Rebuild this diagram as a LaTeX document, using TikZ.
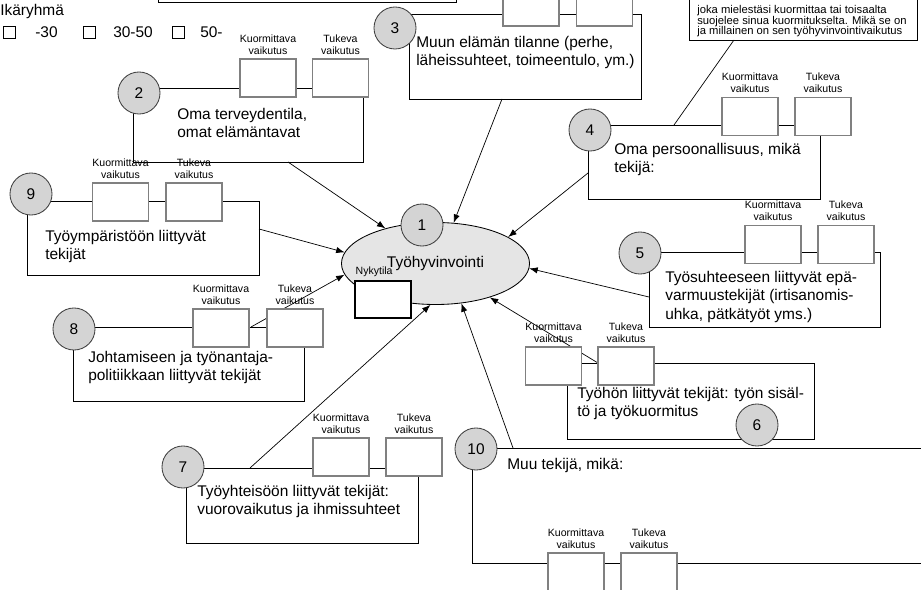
\documentclass[tikz,border=0pt]{standalone}
\usepackage{fontspec}
\setmainfont{Liberation Sans}
\usetikzlibrary{arrows.meta, positioning, shapes.geometric}

\begin{document}
\begin{tikzpicture}[
  x=0.025cm, y=-0.025cm,
  frame/.style={draw=black, line width=0.7pt},
  num/.style={circle, draw=black!75, fill=black!17, line width=0.6pt, minimum size=1.05cm, inner sep=0pt, font=\fontsize{11}{13}\selectfont},
  vbox/.style={draw=black!50, fill=white, line width=1.1pt, minimum width=1.4cm, minimum height=0.95cm, inner sep=0pt},
  lbl/.style={font=\fontsize{7.5}{8.5}\selectfont, align=center, inner sep=0pt},
  txt/.style={font=\fontsize{11}{13}\selectfont, align=left, inner sep=0pt, anchor=north west},
  arr/.style={-{Latex[length=6pt, width=4.5pt]}, line width=0.5pt},
  chk/.style={draw, line width=0.5pt, minimum size=0.3cm, inner sep=0pt}
]
  \useasboundingbox (0,0) rectangle (921,590);
  \clip (0,0) rectangle (921,590);

  % Central node
  \node[ellipse, draw, fill=black!10, line width=0.6pt, minimum width=4.7cm, minimum height=2.05cm, inner sep=0pt, font=\fontsize{11}{13}\selectfont] (wb) at (435.5,263.5) {Työhyvinvointi};

  % Age group
  \node[txt] (age) at (0,4) {Ikäryhmä};
  \node[chk] (k1) at (9,32) {};
  \node[txt, anchor=west] (k1t) at (35,32) {-30};
  \node[chk] (k2) at (89,32) {};
  \node[txt, anchor=west] (k2t) at (113,32) {30-50};
  \node[chk] (k3) at (178,32) {};
  \node[txt, anchor=west] (k3t) at (200,32) {50-};

  % Frames of the factors
  \draw[frame] (158,-40) rectangle (456,2.5);
  \draw[frame] (689,-40) rectangle (917,40);
  \draw[frame] (133,88) rectangle (363,162);   % 2
  \draw[frame] (409,14) rectangle (641,99);    % 3
  \draw[frame] (588,125) rectangle (820,199);  % 4
  \draw[frame] (649,252) rectangle (880,327);  % 5
  \draw[frame] (567,363) rectangle (814,439);  % 6
  \draw[frame] (186,468) rectangle (418,543);  % 7
  \draw[frame] (73,327) rectangle (304,401);   % 8
  \draw[frame] (27,201) rectangle (259,275);   % 9
  \draw[frame] (472,448) rectangle (960,563);  % 10

  % Connector from the note to factor 4
  \coordinate (c4b) at (734,40);
  \coordinate (c4t) at (674,125);
  \draw[line width=0.5pt] (c4b) -- (c4t);

  % Arrows into the central node
  \coordinate (a2) at (288,162);
  \coordinate (a3) at (502,99);
  \coordinate (a4) at (588,173);
  \coordinate (a5) at (649,297);
  \coordinate (a6) at (598,363);
  \coordinate (a7) at (250,468);
  \coordinate (a8) at (251,327);
  \coordinate (a9) at (259,229);
  \coordinate (a10) at (513,448);
  \draw[arr] (a2) -- (wb.145);
  \draw[arr] (a3) -- (wb.66);
  \draw[arr] (a4) -- (wb.20);
  \draw[arr] (a5) -- (wb.-3);
  \draw[arr] (a6) -- (wb.-32);
  \draw[arr] (a7) -- (wb.263);
  \draw[arr] (a8) -- (wb.187.5);
  \draw[arr] (a9) -- (wb.173);
  \draw[arr] (a10) -- (wb.-57);

  % Current state box
  \node[draw, fill=white, line width=1.4pt, minimum width=1.4cm, minimum height=0.92cm, inner sep=0pt] (now) at (383,299.5) {};
  \node[lbl, anchor=south west] (nowl) at ([xshift=1pt, yshift=2pt]now.north west) {Nykytila};

  % Value boxes
  \node[vbox] (k2b) at (268,78) {};
  \node[vbox] (t2b) at (340.5,78) {};
  \node[vbox] (k3b) at (531,7) {};
  \node[vbox] (t3b) at (604.5,7) {};
  \node[vbox] (k4b) at (750,116.5) {};
  \node[vbox] (t4b) at (823,116.5) {};
  \node[vbox] (k5b) at (773,244.5) {};
  \node[vbox] (t5b) at (846,244.5) {};
  \node[vbox] (k6b) at (553.5,366) {};
  \node[vbox] (t6b) at (626,366) {};
  \node[vbox] (k7b) at (341,457) {};
  \node[vbox] (t7b) at (414,457) {};
  \node[vbox] (k8b) at (221,328) {};
  \node[vbox] (t8b) at (295,328) {};
  \node[vbox] (k9b) at (120.5,202) {};
  \node[vbox] (t9b) at (194,202) {};
  \node[vbox] (k10b) at (576,572) {};
  \node[vbox] (t10b) at (649,572) {};

  % Labels above the value boxes
  \node[lbl, above=2.5pt of k2b] (k2l) {Kuormittava\\vaikutus};
  \node[lbl, above=2.5pt of t2b] (t2l) {Tukeva\\vaikutus};
  \node[lbl, above=2.5pt of k4b] (k4l) {Kuormittava\\vaikutus};
  \node[lbl, above=2.5pt of t4b] (t4l) {Tukeva\\vaikutus};
  \node[lbl, above=2.5pt of k5b] (k5l) {Kuormittava\\vaikutus};
  \node[lbl, above=2.5pt of t5b] (t5l) {Tukeva\\vaikutus};
  \node[lbl, above=2.5pt of k6b] (k6l) {Kuormittava\\vaikutus};
  \node[lbl, above=2.5pt of t6b] (t6l) {Tukeva\\vaikutus};
  \node[lbl, above=2.5pt of k7b] (k7l) {Kuormittava\\vaikutus};
  \node[lbl, above=2.5pt of t7b] (t7l) {Tukeva\\vaikutus};
  \node[lbl, above=2.5pt of k8b] (k8l) {Kuormittava\\vaikutus};
  \node[lbl, above=2.5pt of t8b] (t8l) {Tukeva\\vaikutus};
  \node[lbl, above=2.5pt of k9b] (k9l) {Kuormittava\\vaikutus};
  \node[lbl, above=2.5pt of t9b] (t9l) {Tukeva\\vaikutus};
  \node[lbl, above=2.5pt of k10b] (k10l) {Kuormittava\\vaikutus};
  \node[lbl, above=2.5pt of t10b] (t10l) {Tukeva\\vaikutus};

  % Number circles
  \node[num] (n1) at (422,225) {1};
  \node[num] (n2) at (139,93) {2};
  \node[num] (n3) at (395,28) {3};
  \node[num] (n4) at (590,130) {4};
  \node[num] (n5) at (640,253) {5};
  \node[num] (n6) at (757,425) {6};
  \node[num] (n7) at (183,467) {7};
  \node[num] (n8) at (74,329) {8};
  \node[num] (n9) at (31,194) {9};
  \node[num] (n10) at (476,449) {10};

  % Texts of the factors
  \node[txt, font=\fontsize{8}{7.6}\selectfont] (c4) at (697,5) {joka mielestäsi kuormittaa tai toisaalta\\suojelee sinua kuormitukselta. Mikä se on\\ja millainen on sen työhyvinvointivaikutus};
  \node[txt] (f2) at (177,108) {Oma terveydentila,\\omat elämäntavat};
  \node[txt] (f3) at (416,36) {Muun elämän tilanne (perhe,\\läheissuhteet, toimeentulo, ym.)};
  \node[txt] (f4) at (614,143) {Oma persoonallisuus, mikä\\tekijä:};
  \node[txt] (f5) at (665,271) {Työsuhteeseen liittyvät epä-\\varmuustekijät (irtisanomis-\\uhka, pätkätyöt yms.)};
  \node[txt] (f6) at (577,387) {Työhön liittyvät tekijät: työn sisäl-\\tö ja työkuormitus};
  \node[txt] (f7) at (197,485) {Työyhteisöön liittyvät tekijät:\\vuorovaikutus ja ihmissuhteet};
  \node[txt] (f8) at (88,351) {Johtamiseen ja työnantaja-\\politiikkaan liittyvät tekijät};
  \node[txt] (f9) at (45,230) {Työympäristöön liittyvät\\tekijät};
  \node[txt] (f10) at (507,458) {Muu tekijä, mikä:};

\end{tikzpicture}
\end{document}
